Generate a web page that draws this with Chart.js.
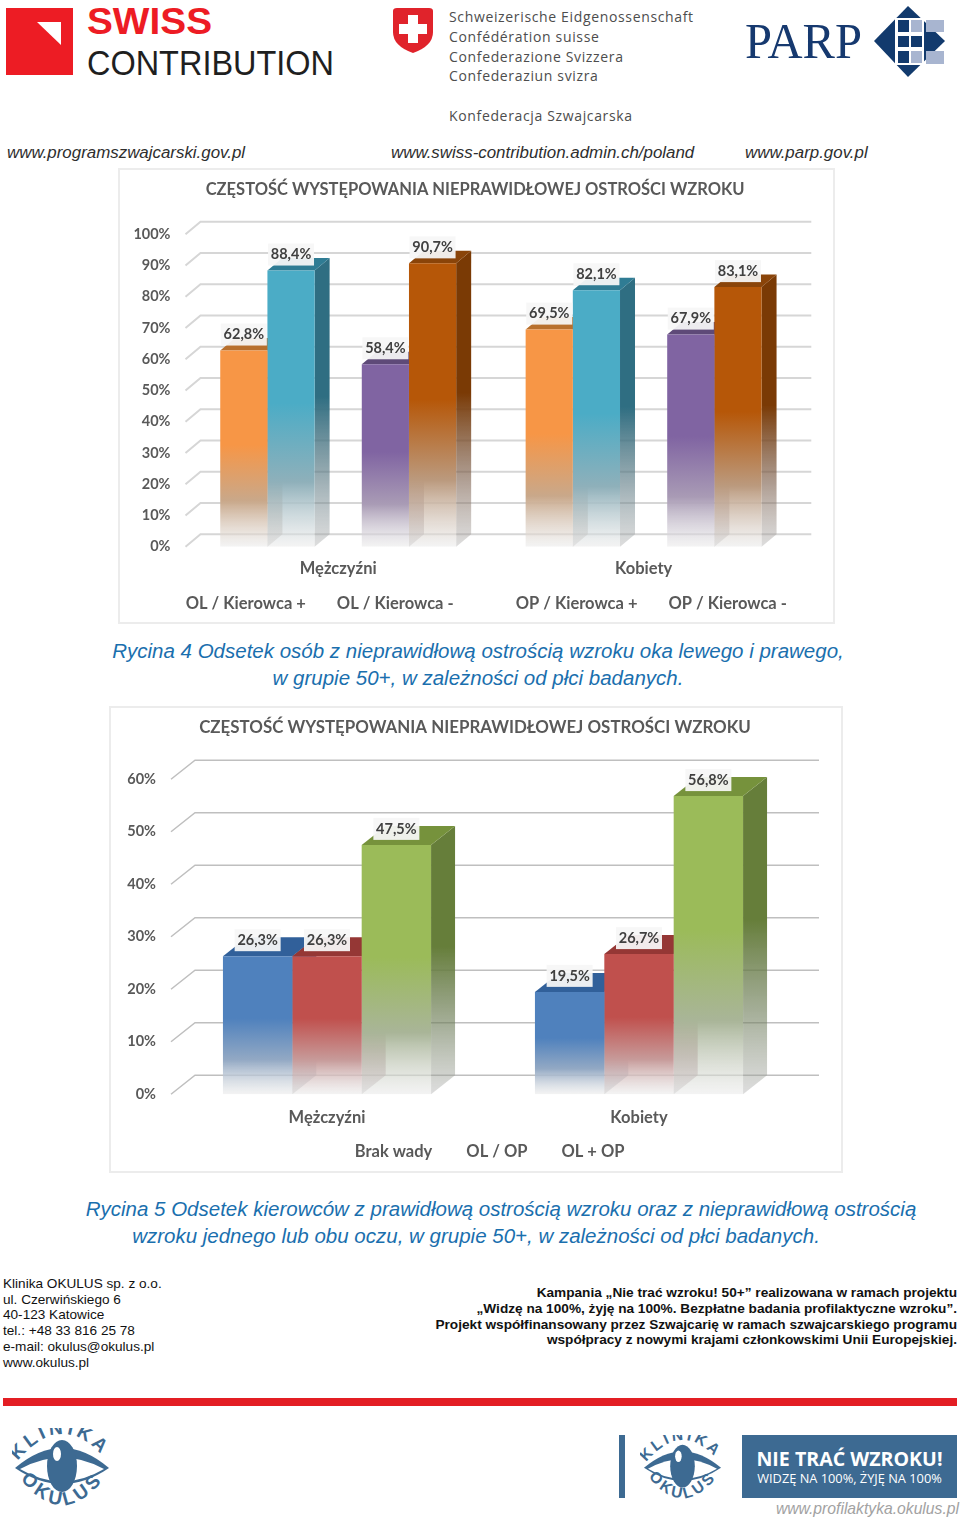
<!DOCTYPE html>
<html lang="pl">
<head>
<meta charset="utf-8">
<title>Częstość występowania nieprawidłowej ostrości wzroku</title>
<script src="https://cdn.jsdelivr.net/npm/chart.js@4/dist/chart.umd.min.js"></script>
<style>
    html, body { margin: 0; padding: 0; background: #fff; }
    #page { position: relative; width: 960px; height: 1518px; overflow: hidden; font-family: "Liberation Sans", sans-serif; }
    #page > * { position: absolute; }
    .card { border: 2px solid #ececec; box-sizing: border-box; }
    canvas { position: absolute; display: block; }
    .url { font-style: italic; font-size: 16.9px; color: #2e2e2e; top: 143px; white-space: nowrap; }
    .cfed { left: 449px; font-family: "Open Sans", sans-serif; font-size: 14px; letter-spacing: 0.65px; color: #4d4d4d; white-space: nowrap; line-height: 18px; }
    .caption { left: 0; width: 956px; text-align: center; font-style: italic; font-size: 20.5px; line-height: 27px; color: #1a6fae; }
    .addr { left: 3px; top: 1276px; font-size: 13.6px; line-height: 15.7px; color: #111; }
    .note { right: 3px; top: 1285px; text-align: right; font-weight: bold; font-size: 13.65px; line-height: 15.8px; color: #111; white-space: nowrap; }
</style>
</head>
<body>
<div id="page">
    <svg style="left:0;top:0" width="340" height="90" viewBox="0 0 340 90">
        <rect x="6" y="8" width="67" height="67" fill="#ed1c24"/>
        <path d="M37 22 L61 22 L61 45 Z" fill="#fff"/>
        <text x="87" y="34" font-family="Liberation Sans" font-weight="bold" font-size="36" textLength="125" lengthAdjust="spacingAndGlyphs" fill="#ed1c24">SWISS</text>
        <text x="87" y="75" font-family="Liberation Sans" font-size="35.5" textLength="247" lengthAdjust="spacingAndGlyphs" fill="#1f1f1f">CONTRIBUTION</text>
    </svg>
    <svg style="left:388px;top:4px" width="50" height="54" viewBox="0 0 50 54">
        <path d="M5 7 Q5 4 9 4 L41 4 Q45 4 45 7 L45 28 Q45 42 25 49 Q5 42 5 28 Z" fill="#e0232b"/>
        <path d="M20 11 H30 V20 H39 V30 H30 V39 H20 V30 H11 V20 H20 Z" fill="#fff"/>
    </svg>
    <div class="cfed" style="top:8px">Schweizerische Eidgenossenschaft</div>
    <div class="cfed" style="top:28px">Confédération suisse</div>
    <div class="cfed" style="top:48px">Confederazione Svizzera</div>
    <div class="cfed" style="top:67px">Confederaziun svizra</div>
    <div class="cfed" style="top:107px">Konfederacja Szwajcarska</div>
    <svg style="left:740px;top:0" width="215" height="85" viewBox="0 0 215 85">
        <text x="5" y="58" font-family="Liberation Serif" font-size="50" textLength="117" lengthAdjust="spacingAndGlyphs" fill="#16396f">PARP</text>
        <path d="M168 6 L205 41 L168 77 L134 41 Z" fill="#123a6d"/>
        <rect x="155" y="18" width="29" height="47" fill="#fff"/>
        <rect x="158" y="20" width="11" height="12" fill="#123a6d"/>
        <rect x="158" y="36" width="11" height="11" fill="#123a6d"/>
        <rect x="158" y="51" width="11" height="12" fill="#123a6d"/>
        <rect x="171" y="20" width="11" height="12" fill="#a8b5d0"/>
        <rect x="171" y="36" width="11" height="11" fill="#123a6d"/>
        <rect x="171" y="51" width="11" height="12" fill="#a8b5d0"/>
        <rect x="186" y="20" width="18" height="12" fill="#a8b5d0"/>
        <rect x="186" y="51" width="18" height="13" fill="#a8b5d0"/>
    </svg>
    <div class="url" style="left:7px">www.programszwajcarski.gov.pl</div>
    <div class="url" style="left:391px">www.swiss-contribution.admin.ch/poland</div>
    <div class="url" style="left:745px">www.parp.gov.pl</div>

    <div class="card" style="left:118px;top:168px;width:717px;height:456px"></div>
    <canvas id="chart1" style="left:118px;top:168px" width="717" height="456"></canvas>
    <div class="caption" style="top:637px">Rycina 4 Odsetek osób z nieprawidłową ostrością wzroku oka lewego i prawego,<br>w grupie 50+, w zależności od płci badanych.</div>

    <div class="card" style="left:109px;top:706px;width:734px;height:467px"></div>
    <canvas id="chart2" style="left:109px;top:706px" width="734" height="467"></canvas>
    <div class="caption" style="top:1195px;left:-2px"><span style="position:relative;left:25px">Rycina 5 Odsetek kierowców z prawidłową ostrością wzroku oraz z nieprawidłową ostrością</span><br>wzroku jednego lub obu oczu, w grupie 50+, w zależności od płci badanych.</div>

    <div class="addr">Klinika OKULUS sp. z o.o.<br>ul. Czerwińskiego 6<br>40-123 Katowice<br>tel.: +48 33 816 25 78<br>e-mail: okulus@okulus.pl<br>www.okulus.pl</div>
    <div class="note">Kampania „Nie trać wzroku! 50+” realizowana w ramach projektu<br>„Widzę na 100%, żyję na 100%. Bezpłatne badania profilaktyczne wzroku”.<br>Projekt współfinansowany przez Szwajcarię w ramach szwajcarskiego programu<br>współpracy z nowymi krajami członkowskimi Unii Europejskiej.</div>
    <div style="left:3px;top:1398px;width:954px;height:8px;background:#e31e24"></div>

    <svg style="display:none">
        <symbol id="okulus" viewBox="0 0 100 78">
            <defs>
                <path id="arcTop" d="M2 38 Q50 -26 99 38"/>
                <path id="arcBottom" d="M2 42 Q50 112 99 42"/>
            </defs>
            <path d="M3 40 Q50 0 97 40 Q50 72 3 40 Z" fill="#3d6a92"/>
            <path d="M8 41 Q50 18 92 41 Q50 66 8 41 Z" fill="#fff"/>
            <ellipse cx="50" cy="38" rx="15" ry="26" fill="#3d6a92"/>
            <ellipse cx="45" cy="26" rx="4" ry="7" fill="#fff"/>
            <text font-family="Liberation Sans" font-weight="bold" font-size="19" letter-spacing="3.5" fill="#3d6a92"><textPath href="#arcTop" startOffset="5%">KLINIKA</textPath></text>
            <text font-family="Liberation Sans" font-weight="bold" font-size="19" letter-spacing="3.5" fill="#3d6a92"><textPath href="#arcBottom" startOffset="9%">OKULUS</textPath></text>
        </symbol>
    </svg>
    <svg style="left:12px;top:1428px" width="100" height="78"><use href="#okulus"/></svg>
    <div style="left:619px;top:1435px;width:6px;height:63px;background:#3d6a92"></div>
    <svg style="left:640px;top:1435px" width="85" height="64"><use href="#okulus"/></svg>
    <div style="left:742px;top:1435px;width:215px;height:63px;background:#3d6a92;color:#fff;text-align:center">
        <div style="font-family:'Open Sans',sans-serif;font-weight:bold;font-size:19.6px;line-height:24px;margin-top:12px;white-space:nowrap">NIE TRAĆ WZROKU!</div>
        <div style="font-family:'Open Sans',sans-serif;font-size:12.8px;line-height:15px;white-space:nowrap">WIDZĘ NA 100%, ŻYJĘ NA 100%</div>
    </div>
    <div style="right:1px;top:1500px;font-style:italic;font-size:15.7px;color:#a2a2a2;white-space:nowrap">www.profilaktyka.okulus.pl</div>
</div>

<script>
    var categories = ['Mężczyźni', 'Kobiety'];

    var olKierowcaPlus = [62.8, 69.5];
    var olKierowcaMinus = [88.4, 82.1];
    var opKierowcaPlus = [58.4, 67.9];
    var opKierowcaMinus = [90.7, 83.1];
    var gapSlot = [null, null];

    var brakWady = [26.3, 19.5];
    var olOp = [26.3, 26.7];
    var olPlusOp = [47.5, 56.8];

    var chartTitle = 'CZĘSTOŚĆ WYSTĘPOWANIA NIEPRAWIDŁOWEJ OSTROŚCI WZROKU';
    var GRAY = '#595959';

    // the library has no 3D bars any more, so side and top faces are drawn around its bars
    function fadeStops(grad, color, from, fade, end) {
        grad.addColorStop(0, color);
        grad.addColorStop(from, color);
        grad.addColorStop(from + (1 - from) * 0.55, fade);
        grad.addColorStop(1, end);
    }

    function depthPlugin(cfg) {
        return {
            id: 'depth3d',
            // title and legend sit off the plot centre in the reference
            afterLayout: function (chart) {
                chart.titleBlock.left += cfg.titleShift;
                chart.titleBlock.right += cfg.titleShift;
                chart.legend.left += cfg.legendShift;
                chart.legend.right += cfg.legendShift;
                chart.legend.top += cfg.legendRise;
            },
            beforeDatasetsDraw: function (chart) {
                var c = chart.ctx, y = chart.scales.y, a = chart.chartArea;
                c.save();
                c.strokeStyle = cfg.gridColor;
                c.lineWidth = cfg.gridWidth;
                y.ticks.forEach(function (t) {
                    var py = y.getPixelForValue(t.value);
                    c.beginPath();
                    c.moveTo(a.left, py);
                    c.lineTo(a.left + cfg.dx, py - cfg.dy);
                    c.lineTo(a.right + cfg.dx, py - cfg.dy);
                    c.stroke();
                });
                chart.data.datasets.forEach(function (ds, i) {
                    if (!ds.face) return;
                    chart.getDatasetMeta(i).data.forEach(function (bar) {
                        var l = bar.x - bar.width / 2, r = bar.x + bar.width / 2;
                        var top = bar.y, base = bar.base;
                        var g = c.createLinearGradient(0, top - cfg.dy, 0, base);
                        fadeStops(g, ds.side, cfg.fadeFrom, ds.sideFade, 'rgba(170,170,170,0.4)');
                        c.fillStyle = g;
                        c.beginPath();
                        c.moveTo(r, top);
                        c.lineTo(r + cfg.dx, top - cfg.dy);
                        c.lineTo(r + cfg.dx, base - cfg.dy);
                        c.lineTo(r, base);
                        c.closePath();
                        c.fill();
                        c.fillStyle = ds.face;
                        c.beginPath();
                        c.moveTo(l, top);
                        c.lineTo(l + cfg.dx, top - cfg.dy);
                        c.lineTo(r + cfg.dx, top - cfg.dy);
                        c.lineTo(r, top);
                        c.closePath();
                        c.fill();
                    });
                });
                c.restore();
            },
            afterDatasetsDraw: function (chart) {
                var c = chart.ctx;
                c.save();
                c.font = 'bold ' + cfg.labelSize + 'px Lato';
                c.textAlign = 'center';
                c.textBaseline = 'middle';
                chart.data.datasets.forEach(function (ds, i) {
                    if (!ds.face) return;
                    chart.getDatasetMeta(i).data.forEach(function (bar, j) {
                        var cy = bar.y - 16;
                        var text = ds.data[j].toFixed(1).replace('.', ',') + '%';
                        c.fillStyle = 'rgba(246,246,246,0.94)';
                        c.fillRect(bar.x - 23, cy - 11, 46, 22);
                        c.fillStyle = '#404040';
                        c.fillText(text, bar.x, cy);
                    });
                });
                c.restore();
            }
        };
    }

    function series(label, data, color, fade, side, sideFade, face, fadeFrom) {
        return {
            label: label,
            data: data,
            side: side,
            sideFade: sideFade,
            face: face,
            borderWidth: 0,
            backgroundColor: function (ctx) {
                var chart = ctx.chart;
                if (!chart.chartArea || typeof ctx.raw !== 'number') return color;
                var y = chart.scales.y;
                var g = chart.ctx.createLinearGradient(0, y.getPixelForValue(ctx.raw), 0, y.getPixelForValue(0));
                fadeStops(g, color, fadeFrom, fade, 'rgba(232,232,232,0.5)');
                return g;
            }
        };
    }

    function makeChart(id, datasets, cfg) {
        return new Chart(document.getElementById(id), {
            type: 'bar',
            data: { labels: categories, datasets: datasets },
            plugins: [depthPlugin(cfg)],
            options: {
                responsive: false,
                animation: false,
                layout: { padding: { right: cfg.right, bottom: cfg.bottom } },
                datasets: { bar: { categoryPercentage: cfg.groupShare, barPercentage: 1 } },
                plugins: {
                    tooltip: { enabled: false },
                    title: {
                        display: true,
                        text: chartTitle,
                        color: GRAY,
                        font: { family: 'Lato', size: cfg.titleSize, weight: 'bold', lineHeight: 1.2 },
                        padding: cfg.titlePadding
                    },
                    legend: {
                        position: 'bottom',
                        labels: {
                            boxWidth: 8,
                            padding: cfg.legendGap,
                            color: GRAY,
                            font: { family: 'Lato', size: 16.5, weight: 'bold' },
                            generateLabels: function (chart) {
                                return chart.data.datasets.map(function (ds, i) {
                                    return { text: ds.label, fillStyle: 'transparent', strokeStyle: 'transparent', lineWidth: 0, datasetIndex: i, fontColor: GRAY };
                                });
                            }
                        }
                    }
                },
                scales: {
                    x: {
                        grid: { display: false },
                        border: { display: false },
                        afterFit: function (s) { s.height = cfg.xAxisHeight; },
                        ticks: { color: GRAY, padding: cfg.xPadding, font: { family: 'Lato', size: 16.5, weight: 'bold' } }
                    },
                    y: {
                        min: 0,
                        max: cfg.max,
                        grid: { display: false },
                        border: { display: false },
                        afterFit: function (s) { s.width = cfg.left; },
                        ticks: {
                            stepSize: 10,
                            color: GRAY,
                            padding: 7,
                            font: { family: 'Lato', size: 14.5, weight: 'bold' },
                            callback: function (v) { return v + '%'; }
                        }
                    }
                }
            }
        });
    }

    makeChart('chart1', [
        series('OL / Kierowca +', olKierowcaPlus, '#f79646', '#c9a88a', '#b0651f', 'rgba(150,110,80,0.6)', '#b8702d', 0.48),
        series('OL / Kierowca -', olKierowcaMinus, '#4bacc6', '#8fb0ba', '#2f6e82', 'rgba(90,120,130,0.6)', '#2f7c94', 0.48),
        { label: '', data: gapSlot, backgroundColor: 'transparent' },
        series('OP / Kierowca +', opKierowcaPlus, '#8064a2', '#a99bb5', '#5a4274', 'rgba(110,80,90,0.6)', '#5e4a78', 0.48),
        series('OP / Kierowca -', opKierowcaMinus, '#b65708', '#bb9a7e', '#7a3a05', 'rgba(120,90,70,0.6)', '#8a4409', 0.48)
    ], {
        max: 100, dx: 15, dy: 12.5, left: 67.5, right: 38.7, bottom: 0, xAxisHeight: 36, xPadding: 4,
        titleShift: 18, legendShift: 21, legendRise: -2,
        groupShare: 0.7725, titleSize: 16.5, titlePadding: { top: 11.5, bottom: 35 }, legendGap: 14.75,
        gridColor: '#d6d6d6', gridWidth: 2, labelSize: 14.5, fadeFrom: 0.48
    });

    makeChart('chart2', [
        series('Brak wady', brakWady, '#4f81bd', '#93a9c4', '#2f5e93', 'rgba(90,110,140,0.6)', '#31609a', 0.45),
        series('OL / OP', olOp, '#c0504d', '#c79b9a', '#8f3230', 'rgba(140,70,90,0.6)', '#953735', 0.45),
        series('OL + OP', olPlusOp, '#9bbb59', '#a9b598', '#667e3a', 'rgba(110,125,90,0.6)', '#76923c', 0.45)
    ], {
        max: 60, dx: 24, dy: 19, left: 62, right: 48, bottom: 0, xAxisHeight: 34.5, xPadding: 6,
        titleShift: 23, legendShift: 29.5, legendRise: -3,
        groupShare: 0.667, titleSize: 16.9, titlePadding: { top: 11.5, bottom: 41.5 }, legendGap: 17.75,
        gridColor: '#bfbfbf', gridWidth: 1.5, labelSize: 14.5, fadeFrom: 0.45
    });
</script>
</body>
</html>
